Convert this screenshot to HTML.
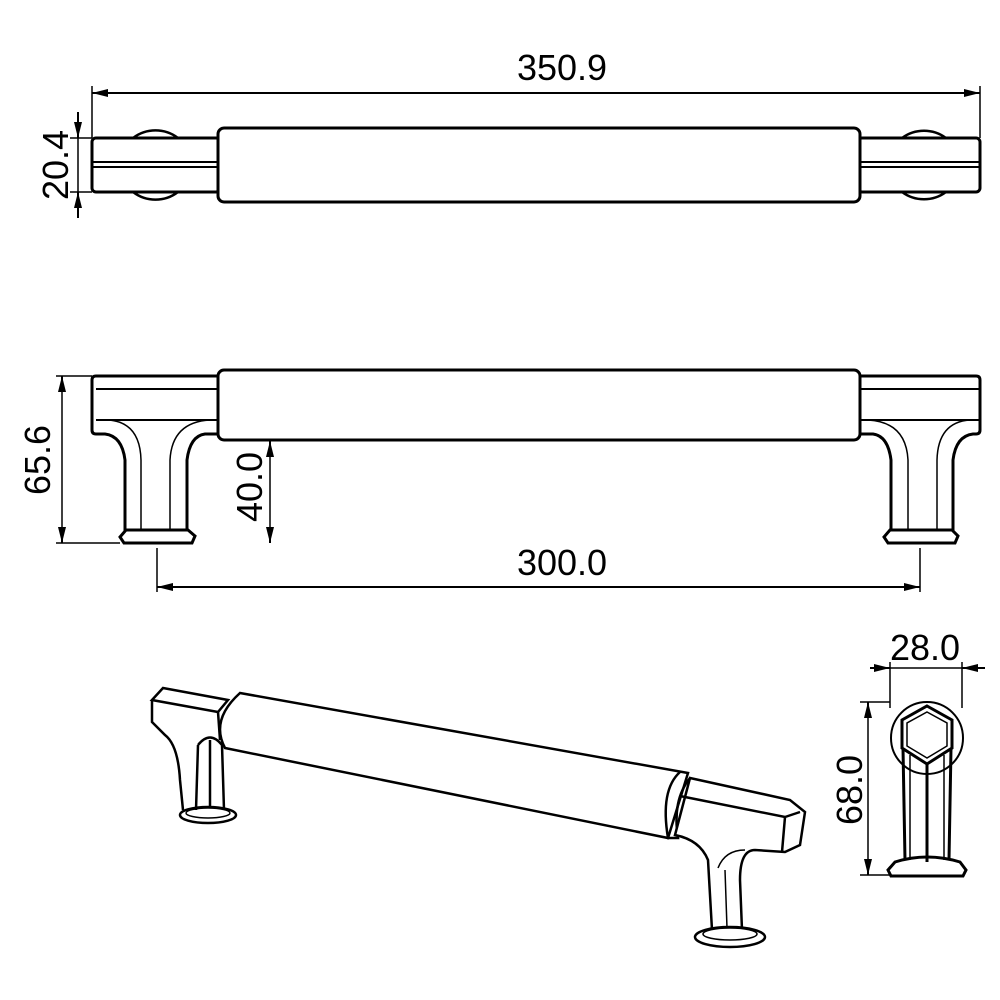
<!DOCTYPE html>
<html><head><style>body{margin:0;background:#fff}svg{display:block}</style></head>
<body>
<svg width="1000" height="1000" viewBox="0 0 1000 1000" xmlns="http://www.w3.org/2000/svg" font-family="Liberation Sans, sans-serif">
<defs>
<marker id="a" markerWidth="16" markerHeight="8" refX="16" refY="4" orient="auto" markerUnits="userSpaceOnUse"><path d="M0,0 L16,4 L0,8 Z" fill="#000"/></marker>
</defs>
<g fill="none" stroke="#000" stroke-width="2">
<!-- TOP VIEW -->
<line x1="92" y1="86" x2="92" y2="138" stroke-width="1.5"/>
<line x1="980" y1="86" x2="980" y2="138" stroke-width="1.5"/>
<line x1="100" y1="93" x2="92" y2="93" marker-end="url(#a)"/>
<line x1="100" y1="93" x2="980" y2="93" marker-end="url(#a)"/>
<line x1="70" y1="138" x2="92" y2="138" stroke-width="1.5"/>
<line x1="70" y1="192" x2="92" y2="192" stroke-width="1.5"/>
<line x1="78" y1="112" x2="78" y2="138" marker-end="url(#a)"/>
<line x1="78" y1="218" x2="78" y2="192" marker-end="url(#a)"/>
<line x1="78" y1="138" x2="78" y2="192" stroke-width="1.5"/>
<path d="M133,138 A37,37 0 0 1 178,138 M133,192 A37,37 0 0 0 178,192" stroke-width="2.5"/>
<path d="M902,138 A37,37 0 0 1 946,138 M902,192 A37,37 0 0 0 946,192" stroke-width="2.5"/>
<rect x="92" y="138" width="128" height="54" rx="4" stroke-width="3"/>
<line x1="92" y1="162" x2="218" y2="162"/><line x1="92" y1="167" x2="218" y2="167"/>
<rect x="858" y="138" width="122" height="54" rx="4" stroke-width="3"/>
<line x1="860" y1="162" x2="980" y2="162"/><line x1="860" y1="167" x2="980" y2="167"/>
<rect x="218" y="128" width="642" height="74" rx="6" fill="#fff" stroke-width="3"/>
<!-- FRONT VIEW -->
<line x1="56" y1="376" x2="92" y2="376" stroke-width="1.5"/>
<line x1="56" y1="543" x2="120" y2="543" stroke-width="1.5"/>
<line x1="62" y1="390" x2="62" y2="376" marker-end="url(#a)"/>
<line x1="62" y1="530" x2="62" y2="543" marker-end="url(#a)"/>
<line x1="62" y1="376" x2="62" y2="543" stroke-width="1.5"/>
<line x1="270" y1="455" x2="270" y2="441" marker-end="url(#a)"/>
<line x1="270" y1="530" x2="270" y2="543" marker-end="url(#a)"/>
<line x1="270" y1="441" x2="270" y2="543" stroke-width="1.5"/>
<line x1="157" y1="548" x2="157" y2="592" stroke-width="1.5"/>
<line x1="920" y1="548" x2="920" y2="592" stroke-width="1.5"/>
<line x1="170" y1="587" x2="157" y2="587" marker-end="url(#a)"/>
<line x1="170" y1="587" x2="920" y2="587" marker-end="url(#a)"/>
<g stroke-width="3">
<path d="M96,376 L218,376 L218,434 L205,434 Q190,436 187,460 L187,530 L125,530 L125,460 Q122,436 105,434 L96,434 Q92,434 92,430 L92,380 Q92,376 96,376 Z"/>
<path d="M126,530 L188,530 L195,536 L192,543 L124,543 L120,537 Z"/>
<path d="M976,376 L860,376 L860,434 L873,434 Q888,436 891,460 L891,530 L953,530 L953,460 Q956,436 973,434 L976,434 Q980,434 980,430 L980,380 Q980,376 976,376 Z"/>
<path d="M890,530 L952,530 L958,536 L955,543 L888,543 L884,537 Z"/>
</g>
<line x1="96" y1="389" x2="218" y2="389"/><line x1="96" y1="420" x2="218" y2="420"/>
<line x1="860" y1="389" x2="980" y2="389"/><line x1="860" y1="420" x2="980" y2="420"/>
<path d="M108,420 Q140,422 141,460 L141,530 M210,420 Q172,422 170,460 L170,530" stroke-width="1.5"/>
<path d="M970,420 Q938,422 937,460 L937,530 M868,420 Q906,422 908,460 L908,530" stroke-width="1.5"/>
<rect x="218" y="370" width="642" height="70" rx="6" fill="#fff" stroke-width="3"/>
<!-- SIDE VIEW -->
<line x1="890" y1="662" x2="890" y2="708" stroke-width="1.5"/>
<line x1="962" y1="662" x2="962" y2="708" stroke-width="1.5"/>
<line x1="870" y1="668" x2="890" y2="668" marker-end="url(#a)"/>
<line x1="985" y1="668" x2="962" y2="668" marker-end="url(#a)"/>
<line x1="890" y1="668" x2="962" y2="668" stroke-width="1.5"/>
<line x1="860" y1="702" x2="890" y2="702" stroke-width="1.5"/>
<line x1="860" y1="875" x2="890" y2="875" stroke-width="1.5"/>
<line x1="868" y1="716" x2="868" y2="702" marker-end="url(#a)"/>
<line x1="868" y1="860" x2="868" y2="875" marker-end="url(#a)"/>
<line x1="868" y1="702" x2="868" y2="875" stroke-width="1.5"/>
<circle cx="927" cy="738" r="36" stroke-width="2"/>
<path d="M927,706 L952,720 L952,748 L927,764 L902,748 L902,720 Z" fill="#fff" stroke-width="3"/>
<path d="M927,712 L947,723 L947,746 L927,758 L907,746 L907,723 Z" stroke-width="1.5"/>
<path d="M903,748 L905,860 M951,748 L949,860 M927,764 L927,862" stroke-width="3"/>
<path d="M910,755 L910,860 M944,755 L944,860" stroke-width="1.5"/>
<path d="M895,862 Q927,852 960,862 L966,870 L963,876 L891,876 L888,870 Z" stroke-width="3"/>
<!-- ISO VIEW -->
<g stroke-width="2.5">
<path d="M152,700 L163,688 L228,700 L218,712 Z"/>
<path d="M152,700 L152,722 L165,735 Q178,745 180,780 L183,810 M218,712 L220,740"/>
<path d="M198,745 Q210,730 222,745 L224,810 M198,745 L196,810 M210,740 L210,808"/>
<ellipse cx="208" cy="815" rx="28" ry="8"/>
<ellipse cx="208" cy="813" rx="22" ry="5" stroke-width="1.5"/>
<path d="M240,693 L688,773 L668,838 L225,748 Q210,720 240,693 Z" fill="#fff"/>
<path d="M680,772 Q660,790 668,838 L678,838 Q672,800 690,778"/>
<path d="M690,778 L790,800 L805,812 L800,845 L785,852 L755,850 Q740,850 740,880 L742,930 L712,930 L708,860 Q700,840 675,835 Z" fill="#fff"/>
<path d="M680,796 L785,817 L800,812 M785,817 L782,852"/>
<path d="M718,868 Q725,850 745,850 M725,870 L727,928" stroke-width="1.5"/>
<ellipse cx="730" cy="937" rx="35" ry="10" fill="#fff"/>
<ellipse cx="730" cy="934" rx="27" ry="6" stroke-width="1.5"/>
</g>
</g>
<g fill="#000" font-size="36" text-anchor="middle">
<text x="562" y="80">350.9</text>
<text x="562" y="575">300.0</text>
<text x="925" y="660">28.0</text>
<text transform="translate(68,165) rotate(-90)">20.4</text>
<text transform="translate(50,460) rotate(-90)">65.6</text>
<text transform="translate(262,487) rotate(-90)">40.0</text>
<text transform="translate(862,790) rotate(-90)">68.0</text>
</g>
</svg>
</body></html>
